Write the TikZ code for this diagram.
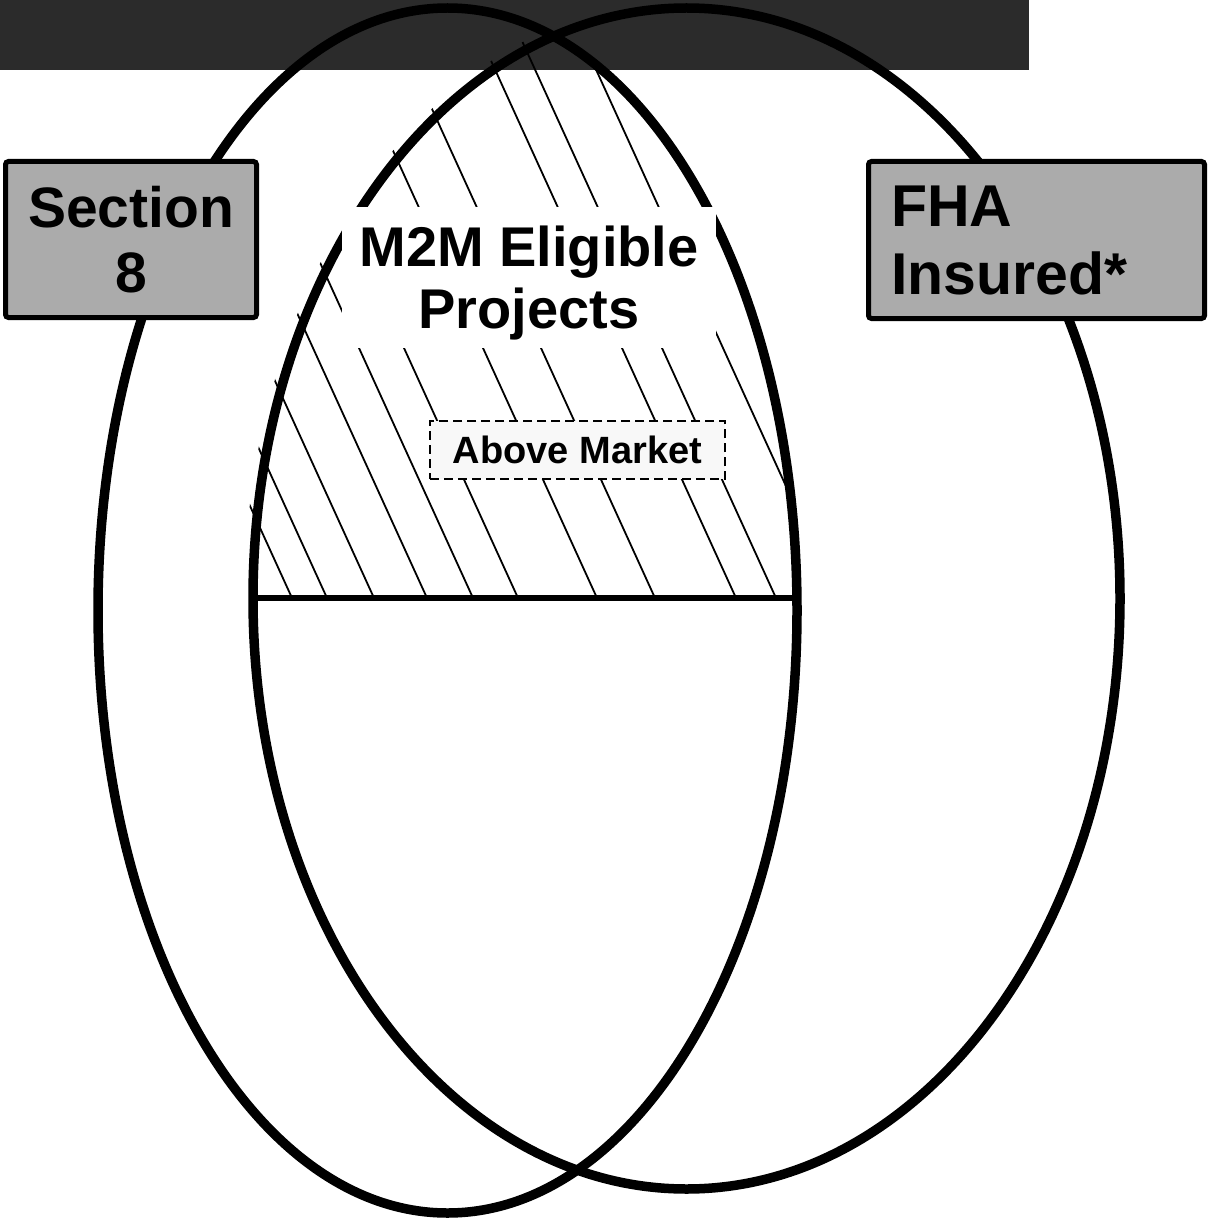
\documentclass[tikz,border=0pt]{standalone}
\usepackage{fontspec}
\setmainfont{Liberation Sans}
\definecolor{boxgray}{HTML}{ABABAB}
\definecolor{bargray}{HTML}{2B2B2B}
\definecolor{abovefill}{HTML}{F8F8F8}
\begin{document}
\begin{tikzpicture}[x=1pt,y=-1pt,
  ring/.style={draw=black,line width=9.5pt},
  hatchline/.style={draw=black,line width=1.8pt},
  divider/.style={draw=black,line width=6.5pt},
  labelbox/.style={draw=black,line width=5pt,fill=boxgray,rounded corners=3pt,inner sep=0pt},
  bigfont/.style={font=\bfseries\fontsize{#1}{65}\selectfont}]
\useasboundingbox (0,0) rectangle (1207,1222);
% top bar
\fill[bargray] (0,0) rectangle (1029,70);
% centres of the two ellipses
\coordinate (cA) at (447.5,610.5);
\coordinate (cB) at (686.5,598.5);
% hatching of the upper half of the lens
\begin{scope}
  \clip (cA) ellipse [x radius=349.5, y radius=602.5];
  \clip (cB) ellipse [x radius=442, y radius=599];
  \clip (0,0) rectangle (1207,598);
  \foreach \b in {292,327,374,427,473,518,597,655,736,776,837}
    \draw[hatchline] (\b,598) -- ({\b-272.7},0);
\end{scope}
% ellipses
\draw[ring] (cA) ellipse [x radius=349.5, y radius=602.5];
\draw[ring] (cB) ellipse [x radius=433.5, y radius=590.5];
% dividing line
\coordinate (dl) at (253,598);
\coordinate (dr) at (801,598);
\draw[divider] (dl) -- (dr);
% labels
\node (m2m) [fill=white, inner sep=0pt, minimum width=374pt, minimum height=141pt,
  align=center, font=\bfseries\fontsize{56}{62}\selectfont]
  at (529,277.5) {\rule{0pt}{51pt}M2M Eligible\\Projects};
\node (above) [draw=black, line width=2pt, dash pattern=on 9pt off 5pt, fill=abovefill,
  inner sep=0pt, minimum width=295pt, minimum height=58pt,
  font=\bfseries\fontsize{38}{44}\selectfont]
  at (577.5,450) {Above Market};
\node (sec8) [labelbox, minimum width=251pt, minimum height=156pt, align=center,
  font=\bfseries\fontsize{57}{65}\selectfont]
  at (131,239.5) {Section\\8};
\node (fha) [labelbox, minimum width=336pt, minimum height=157pt, align=left,
  inner xsep=22.5pt, text width=291pt,
  font=\bfseries\fontsize{59}{68}\selectfont]
  at (1036.5,240) {FHA\\Insured*};
\end{tikzpicture}
\end{document}
